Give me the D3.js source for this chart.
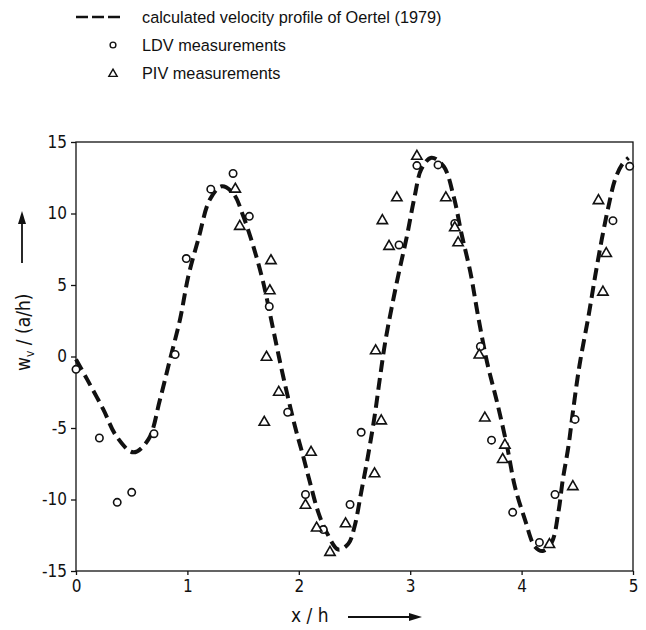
<!DOCTYPE html>
<html>
<head>
<meta charset="utf-8">
<script src="https://cdn.jsdelivr.net/npm/d3@7"></script>
<style>
body { margin:0; background:#fff; }
svg { display:block; }
.tick text { font-family:"DejaVu Sans Condensed","DejaVu Sans",sans-serif; font-size:17px; fill:#111; }
.legend text { font-family:"Liberation Sans",Arial,sans-serif; font-size:16.3px; fill:#111; }
</style>
</head>
<body>
<svg></svg>
<script>

// calculated profile (Oertel 1979)
var curveX = [0,0.1,0.245,0.365,0.515,0.65,0.754,0.844,0.934,1.008,1.098,1.203,1.308,1.412,1.502,1.592,1.68,1.77,1.86,1.966,2.04,2.10,2.175,2.25,2.355,2.445,2.50,2.56,2.62,2.68,2.73,2.78,2.88,2.97,3.04,3.10,3.19,3.30,3.39,3.46,3.54,3.61,3.69,3.78,3.87,3.94,4.03,4.12,4.19,4.27,4.33,4.37,4.42,4.46,4.52,4.60,4.66,4.72,4.78,4.84,4.90,4.96]
var curveY = [-0.2,-1.6,-3.7,-5.6,-6.7,-5.8,-3.0,-0.2,2.6,5.6,8.2,11.0,11.9,11.4,9.8,7.7,5.2,1.9,-1.4,-4.9,-7.0,-8.8,-10.9,-12.3,-13.5,-13.1,-11.9,-9.5,-7.0,-4.2,-1.4,1.2,5.2,8.4,11.2,13.1,13.9,13.3,11.2,8.6,5.9,2.8,-0.4,-3.2,-6.3,-9.1,-11.4,-13.3,-13.6,-13.0,-10.9,-8.6,-6.3,-3.9,-0.6,2.8,5.6,8.2,10.5,12.4,13.4,13.9]

// LDV measurements (circles)
var ldvX = [0,0.21,0.37,0.50,0.70,0.89,0.99,1.21,1.41,1.556,1.735,1.90,2.06,2.22,2.46,2.56,2.90,3.06,3.25,3.40,3.63,3.73,3.92,4.16,4.30,4.48,4.82,4.97]
var ldvY = [-0.9,-5.7,-10.2,-9.5,-5.4,0.14,6.85,11.7,12.8,9.8,3.5,-3.9,-9.65,-12.1,-10.35,-5.3,7.8,13.35,13.4,9.3,0.7,-5.85,-10.9,-13.0,-9.65,-4.4,9.5,13.3]

// PIV measurements (triangles)
var pivX = [1.43,1.47,1.75,1.74,1.71,1.69,1.82,2.11,2.06,2.16,2.28,2.42,2.69,2.74,2.68,2.75,2.81,2.88,3.06,3.32,3.40,3.43,3.62,3.67,3.85,3.83,4.25,4.46,4.69,4.76,4.73]
var pivY = [11.7,9.1,6.7,4.6,-0.05,-4.6,-2.5,-6.7,-10.4,-12.0,-13.7,-11.7,0.4,-4.5,-8.2,9.5,7.7,11.1,14.0,11.1,9.0,7.95,0.1,-4.3,-6.2,-7.2,-13.15,-9.1,10.9,7.2,4.5]

var xTicks = [0,1,2,3,4,5]
var yTicks = [-15,-10,-5,0,5,10,15]

var legendLabels = ["calculated velocity profile of Oertel (1979)","LDV measurements","PIV measurements"]

var screen = {width:646,height:630}
var margins = {top:142,right:13,bottom:59,left:76}

var width = screen.width - margins.left - margins.right
var height = screen.height - margins.top - margins.bottom

var svg = d3.select("svg")
    .attr("width",screen.width)
    .attr("height",screen.height)

var xScale = d3.scaleLinear()
                .domain([0,5])
                .range([0,width])

var yScale = d3.scaleLinear()
                .domain([-15,15])
                .range([height,0])

var graph = svg.append("g")
    .attr("id","graph")
    .attr("transform","translate("+margins.left+","+margins.top+")")

// frame
graph.append("rect")
    .attr("width",width)
    .attr("height",height)
    .attr("fill","none")
    .attr("stroke","#111")
    .attr("stroke-width",1.3)

var xAxis = d3.axisBottom(xScale).tickValues(xTicks).tickSize(4).tickPadding(5).tickFormat(d3.format("d"))
var yAxis = d3.axisLeft(yScale).tickValues(yTicks).tickSize(5).tickPadding(4).tickFormat(d3.format("d"))

graph.append("g")
    .attr("transform","translate(0,"+height+")")
    .call(xAxis)
    .call(function(g){ g.select(".domain").remove() })

graph.append("g")
    .call(yAxis)
    .call(function(g){ g.select(".domain").remove() })

graph.selectAll(".tick line").attr("stroke","#111").attr("stroke-width",1.3)
graph.selectAll(".tick text").text(function(d){ return d < 0 ? "-" + Math.abs(d) : d })

// dashed profile
var line = d3.line()
    .x(function(d){ return xScale(d[0]) })
    .y(function(d){ return yScale(d[1]) })
    .curve(d3.curveCatmullRom)

graph.append("path")
    .datum(d3.zip(curveX,curveY))
    .attr("d",line)
    .attr("fill","none")
    .attr("stroke","#111")
    .attr("stroke-width",4)
    .attr("stroke-dasharray","12,6")

graph.selectAll("circle.ldv")
    .data(d3.zip(ldvX,ldvY))
    .enter()
    .append("circle")
    .classed("ldv",true)
    .attr("cx",function(d){ return xScale(d[0]) })
    .attr("cy",function(d){ return yScale(d[1]) })
    .attr("r",3.7)
    .attr("fill","#fff")
    .attr("stroke","#111")
    .attr("stroke-width",1.6)

var tri = d3.symbol().type(d3.symbolTriangle).size(46)

graph.selectAll("path.piv")
    .data(d3.zip(pivX,pivY))
    .enter()
    .append("path")
    .classed("piv",true)
    .attr("d",tri)
    .attr("transform",function(d){ return "translate("+xScale(d[0])+","+yScale(d[1])+")" })
    .attr("fill","#fff")
    .attr("stroke","#111")
    .attr("stroke-width",1.6)

// axis titles
var titleFont = "'DejaVu Sans Condensed','DejaVu Sans',sans-serif"

svg.append("text")
    .attr("x",291)
    .attr("y",622)
    .attr("font-family",titleFont)
    .attr("font-size",19)
    .attr("fill","#111")
    .text("x / h")

svg.append("line")
    .attr("x1",348).attr("y1",617)
    .attr("x2",412).attr("y2",617)
    .attr("stroke","#111").attr("stroke-width",1.8)
svg.append("path")
    .attr("d","M422,617 L409,613 L409,621 Z")
    .attr("fill","#111")

var yTitle = svg.append("text")
    .attr("transform","translate(30,371) rotate(-90)")
    .attr("font-family",titleFont)
    .attr("font-size",19)
    .attr("fill","#111")
yTitle.append("tspan").text("w")
yTitle.append("tspan").attr("font-size",12).attr("dy",4).text("v")
yTitle.append("tspan").attr("dy",-4).text(" / (a/h)")

svg.append("line")
    .attr("x1",22).attr("y1",263)
    .attr("x2",22).attr("y2",222)
    .attr("stroke","#111").attr("stroke-width",1.8)
svg.append("path")
    .attr("d","M22,211 L18,224 L26,224 Z")
    .attr("fill","#111")

// legend
var legend = svg.append("g").classed("legend",true)

legend.append("line")
    .attr("x1",76).attr("y1",17)
    .attr("x2",120).attr("y2",17)
    .attr("stroke","#111")
    .attr("stroke-width",2.4)
    .attr("stroke-dasharray","12,4")

legend.append("circle")
    .attr("cx",113).attr("cy",45)
    .attr("r",2.9)
    .attr("fill","#fff")
    .attr("stroke","#111")
    .attr("stroke-width",1.4)

legend.append("path")
    .attr("d",d3.symbol().type(d3.symbolTriangle).size(30))
    .attr("transform","translate(113,74)")
    .attr("fill","#fff")
    .attr("stroke","#111")
    .attr("stroke-width",1.4)

legend.selectAll("text")
    .data(legendLabels)
    .enter()
    .append("text")
    .attr("x",142)
    .attr("y",function(d,i){ return 23 + i*28 })
    .text(function(d){ return d })

</script>
</body>
</html>
